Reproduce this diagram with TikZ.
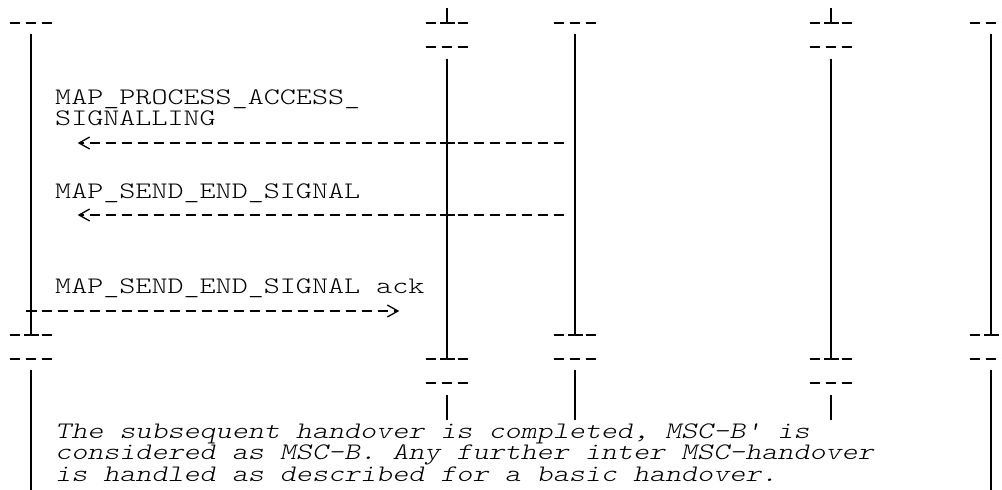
\documentclass[tikz,border=0pt]{standalone}
\usetikzlibrary{arrows.meta}
\newcommand\tw[1]{\scalebox{1.29}[1]{#1}}
\begin{document}
\begin{tikzpicture}[x=1pt,y=-1pt,
  life/.style={line width=1.3pt},
  tick/.style={line width=1.3pt},
  teebar/.style={line width=2pt},
  msg/.style={line width=1.3pt, dash pattern=on 10.5pt off 5.5pt},
  tipl/.style={-{Straight Barb[length=10.7pt,width=12pt,sep=5pt]}},
  lbl/.style={anchor=base west, inner sep=0pt, align=left, font=\fontsize{23.7}{21.5}\selectfont\fontseries{l}\ttfamily},
  note/.style={anchor=base west, inner sep=0pt, align=left, font=\fontsize{23.7}{21.5}\selectfont\fontseries{l}\ttfamily\slshape},
  dashes/.pic={\draw[tick] (-21.25,0) -- (-10.75,0) (-5.25,0) -- (5.25,0) (10.75,0) -- (21.25,0);},
  tee/.pic={\draw[tick] (-21.25,0) -- (-10.75,0) (10.75,0) -- (21.25,0); \draw[teebar] (-7.5,0) -- (7.5,0);},
]
\clip (0,0) rectangle (1002,490);
\fill[white] (0,0) rectangle (1002,490);

% lifeline x positions: 31, 447, 575, 831, 991
% ---- row 0 / row 1 heads
\pic at (31,23) {dashes};
\pic at (447,23) {tee};
\pic at (575,23) {dashes};
\pic at (831,23) {tee};
\pic at (991,23) {dashes};
\pic at (447,47) {dashes};
\pic at (831,47) {dashes};
\coordinate (Btop) at (447,8);  \coordinate (Bhead) at (447,23);
\coordinate (Dtop) at (831,8);  \coordinate (Dhead) at (831,23);
\draw[life] (Btop) -- (Bhead);
\draw[life] (Dtop) -- (Dhead);

% ---- upper lifelines
\coordinate (A0) at (31,33.5);   \coordinate (A1) at (31,335);
\coordinate (B0) at (447,58.5);  \coordinate (B1) at (447,359);
\coordinate (C0) at (575,33.5);  \coordinate (C1) at (575,335);
\coordinate (D0) at (831,58.5);  \coordinate (D1) at (831,359);
\coordinate (E0) at (991,33.5);  \coordinate (E1) at (991,335);
\draw[life] (A0) -- (A1);
\draw[life] (B0) -- (B1);
\draw[life] (C0) -- (C1);
\draw[life] (D0) -- (D1);
\draw[life] (E0) -- (E1);

% ---- middle markers
\pic at (31,335) {tee};
\pic at (575,335) {tee};
\pic at (991,335) {tee};
\pic at (31,359) {dashes};
\pic at (575,359) {dashes};
\pic at (991,359) {dashes};
\pic at (447,359) {tee};
\pic at (831,359) {tee};
\pic at (447,383) {dashes};
\pic at (831,383) {dashes};

% ---- lower lifelines
\coordinate (A2) at (31,370);   \coordinate (A3) at (31,490);
\coordinate (B2) at (447,395);  \coordinate (B3) at (447,420);
\coordinate (C2) at (575,370);  \coordinate (C3) at (575,420);
\coordinate (D2) at (831,395);  \coordinate (D3) at (831,420);
\coordinate (E2) at (991,370);  \coordinate (E3) at (991,490);
\draw[life] (A2) -- (A3);
\draw[life] (B2) -- (B3);
\draw[life] (C2) -- (C3);
\draw[life] (D2) -- (D3);
\draw[life] (E2) -- (E3);

% ---- messages
\coordinate (C5) at (575,143);  \coordinate (T5) at (72.7,143);  \coordinate (X5) at (447,143);
\coordinate (C8) at (575,215);  \coordinate (T8) at (72.7,215);  \coordinate (X8) at (447,215);
\coordinate (A12) at (31,311);  \coordinate (T12) at (404.3,311);
\draw[msg, tipl, shorten <=10.75pt] (C5) -- (T5);
\draw[msg, tipl, shorten <=10.75pt] (C8) -- (T8);
\draw[msg, tipl, shorten <=10.75pt] (A12) -- (T12);
\draw[teebar] (X5) ++(-7.5,0) -- ++(15,0);
\draw[teebar] (X8) ++(-7.5,0) -- ++(15,0);
\draw[tick] (A12) ++(-5.5,0) -- ++(11,0);

% ---- labels (base anchor = baseline of the last line)
\node[lbl] (m1) at (55,125.5) {\tw{MAP\_PROCESS\_ACCESS\_}\\\tw{SIGNALLING}};
\node[lbl] (m2) at (55,198) {\tw{MAP\_SEND\_END\_SIGNAL}};
\node[lbl] (m3) at (55,293.5) {\tw{MAP\_SEND\_END\_SIGNAL ack}};
\node[note] (n1) at (55,481) {\tw{The subsequent handover is completed, MSC-B\textquotesingle{} is}\\
  \tw{considered as MSC-B. Any further inter MSC-handover}\\
  \tw{is handled as described for a basic handover.}};
\end{tikzpicture}
\end{document}
